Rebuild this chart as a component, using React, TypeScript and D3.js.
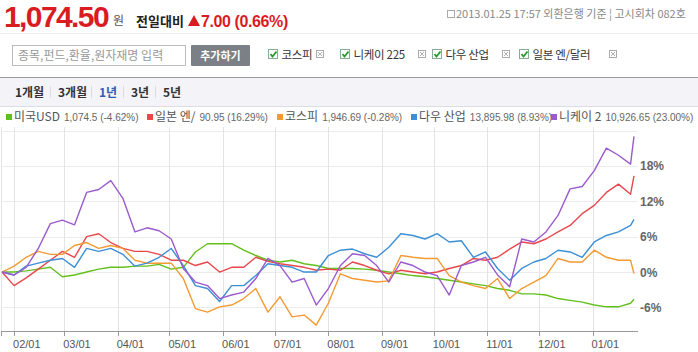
import React from 'react';
import * as d3 from 'd3';

// weekly closes, % change from 2012-01-25, last point = 2013-01-25
const START = new Date(2012, 0, 25);
const END = new Date(2013, 0, 25);
const dates: Date[] = [...d3.range(53).map(i => d3.timeDay.offset(START, 7 * i)), END];

const usd = [0, 0, 0.2, 0.5, 0.8, -0.8, -0.5, 0, 0.5, 0.8, 0.8, 1, 1, 1.3, 0.5,
  0.8, 3.4, 4.8, 4.8, 4.8, 3.7, 2.8, 2, 1.7, 2, 1.4, 1.1, 0.6, 0.6,
  0.6, 0.5, 0.3, 0, -0.3, -0.6, -0.8, -1.1, -1.4, -1.7, -2, -2.3, -2.8, -3.1,
  -3.7, -3.7, -3.9, -4.5, -4.8, -5.1, -5.6, -5.9, -5.9, -5.3, -4.62];
const jpy = [0, -2.3, -1, 0.5, 2, 3.5, 2.5, 6, 6.5, 5, 4, 3.5, 3.5, 3, 2,
  2, 1.1, 1.7, 0, 0.8, 0.8, 2.5, 1.8, 1.4, 1.1, 0.8, 0.3, 0.5, 0.3,
  1.7, 1.1, 0.3, -0.3, 0.3, 0, -0.3, 0, 0.6, 1.1, 2.3, 2, 2.5, 3.9,
  5.1, 4.8, 5.6, 6.8, 7.9, 9.9, 11.3, 13.5, 14.9, 13.2, 16.29];
const kospi = [0, 1, 2.5, 3.5, 3, 3, 4.5, 5, 4, 4.5, 4, 2, 1.5, 1.5, 1.5,
  -1.1, -6.2, -6.8, -5.9, -5.6, -4.5, -2.8, -6.8, -4.2, -7.6, -7.3, -9, -5.3, -0.3,
  -1.1, -1.4, -1.7, -1.5, 2.8, 2.5, 2.3, 2.3, -0.6, -1.7, -2.3, -2.8, -1.1, -4.5,
  -2.8, -1.7, -0.6, 2.3, 1.7, 1.7, 3.7, 2.5, 2, 2, -0.28];
const dow = [0, -0.5, 1, 1.5, 2, 2.3, 0.8, 4, 3.5, 4, 3, 1, 1.5, 2.5, 4,
  1.1, -2.3, -2.8, -5, -2.3, -2.3, -0.6, 1.4, 1.1, 0.8, 0, 0, 2.8, 3.7,
  3.9, 3.1, 2.5, 4.2, 6.5, 6.2, 5.6, 6.5, 5.1, 5.3, 2.5, 3.4, 0.6, -1.4,
  0.6, 1.7, 2.3, 3.7, 3.4, 2.5, 5.1, 6.2, 6.8, 7.9, 8.93];
const nikkei = [0, -0.5, 0.8, 4, 8.2, 8.8, 8, 13.5, 14, 15.5, 12.5, 6.8, 7.5, 7, 5.6,
  0.6, -1.7, -2.3, -4.5, -3.9, -3.4, -1.1, 2.3, 1.1, -1.7, -1.1, -5.6, -2.8, 1.1,
  3.1, 2.8, 1.1, -1.7, 1.7, 1.1, 0, -0.6, -3.9, 1.1, 1.7, 2.5, -0.5, -2.5,
  5.6, 5.1, 6.8, 9.6, 14.1, 14.5, 17.2, 21.0, 19.8, 18.3, 23.0];

const seriesNames = ['미국USD', '일본 엔/', '코스피', '다우 산업', '니케이 2'];
const lastValues = ['1,074.5', '90.95', '1,946.69', '13,895.98', '10,926.65'];
const lastPcts = ['(-4.62%)', '(16.29%)', '(-0.28%)', '(8.93%)', '(23.00%)'];
const seriesColors = ['#62bf1c', '#e8474b', '#f39a33', '#3d8fd6', '#9b5acd'];
const seriesValues = [usd, jpy, kospi, dow, nikkei];

const yTicks = [-6, 0, 6, 12, 18];
const gridTicks = [-6, 0, 6, 12, 18, 24];
const compareItems = ['코스피', '니케이 225', '다우 산업', '일본 엔/달러'];
const periods = ['1개월', '3개월', '1년', '3년', '5년'];

const W = 698;
const H = 352;
const KR = '"Noto Sans CJK KR", "Liberation Sans", sans-serif';

export default function App() {
  const x = d3.scaleTime().domain([START, END]).range([2, 634]);
  const y = d3.scaleLinear().domain([-10, 24]).range([331, 130.5]);
  const months = d3.timeMonth.range(new Date(2012, 1, 1), END);
  const line = d3.line<number>()
    .x((_, i) => x(dates[i]))
    .y(d => y(d));

  const legendX = [6, 147, 277, 411, 551];
  const checkX = [268, 340, 432, 519];
  const closeX = [316, 418, 502, 609];
  const periodX = [15, 58, 99, 131, 163];

  return (
    <div style={{ position: 'absolute', left: 0, top: 0 }}>
      <svg width={W} height={H} style={{ display: 'block', background: '#fff' }} fontFamily={KR}>
        {/* header */}
        <text x={4} y={27} fontFamily="Liberation Sans, Arial" fontWeight="bold" fontSize={30}
          letterSpacing={-1.6} fill="#d91c1f">1,074.50</text>
        <text x={113} y={25} fontSize={12} fill="#555">원</text>
        <text x={136} y={26} fontSize={13} fontWeight="bold" fill="#222">전일대비</text>
        <path d="M188,26 L200,26 L194,15 Z" fill="#d91c1f" />
        <text x={201} y={27} fontFamily="Liberation Sans, Arial" fontWeight="bold" fontSize={16}
          letterSpacing={-0.4} fill="#d91c1f">7.00 (0.66%)</text>
        <rect x={447.5} y={10.5} width={7} height={7} fill="none" stroke="#aaa" />
        <text x={456} y={18} fontSize={11} fill="#888">2013.01.25 17:57  외환은행 기준  ¦  고시회차 082호</text>
        <line x1={0} x2={W} y1={33.5} y2={33.5} stroke="#eee" />

        {/* search row */}
        <rect x={12.5} y={45.5} width={173} height={20} fill="#fff" stroke="#bbb" />
        <text x={18} y={60} fontSize={12} fill="#999">종목,펀드,환율,원자재명 입력</text>
        <rect x={191} y={45} width={59} height={21} rx={1} fill="#7b7f86" />
        <text x={220.5} y={59.5} fontSize={11} fontWeight="bold" fill="#fff" textAnchor="middle">추가하기</text>
        {compareItems.map((name, i) => {
          const cx = checkX[i];
          const bx = closeX[i];
          return (
            <g key={name}>
              <rect x={cx + 0.5} y={49.5} width={9} height={9} fill="#fff" stroke="#8a9" />
              <path d={`M${cx + 2.5},${54} l2,2.5 l4,-5`} fill="none" stroke="#2a9a2a" strokeWidth={1.8} />
              <text x={cx + 13.5} y={59} fontSize={11.5} letterSpacing={-0.3} fill="#333">{name}</text>
              <rect x={bx + 0.5} y={50.5} width={7} height={7} fill="#fff" stroke="#aaa" />
              <path d={`M${bx + 2},52 l4,4 M${bx + 6},52 l-4,4`} stroke="#999" strokeWidth={0.8} />
            </g>
          );
        })}

        {/* period bar */}
        <rect x={0} y={77} width={W} height={30} fill="#f4f4f8" />
        <line x1={0} x2={W} y1={77.5} y2={77.5} stroke="#9a9a9a" />
        <line x1={0} x2={W} y1={106.5} y2={106.5} stroke="#dcdce4" />
        {periods.map((p, i) => (
          <g key={p}>
            <text x={periodX[i]} y={97} fontSize={12} fontWeight="bold"
              fill={p === '1년' ? '#2f5eb0' : '#333'}>{p}</text>
            {i > 0 && <line x1={periodX[i] - 7.5} x2={periodX[i] - 7.5} y1={86} y2={98} stroke="#ddd" />}
          </g>
        ))}

        {/* legend */}
        {seriesNames.map((name, i) => (
          <g key={name}>
            <rect x={legendX[i]} y={114} width={6} height={6} fill={seriesColors[i]} />
            <text x={legendX[i] + 8} y={121} fontSize={12} fill="#555">
              {name}
              <tspan fontSize={10} fill="#666" fontFamily="Liberation Sans, Arial" dx={4}>
                {lastValues[i]} {lastPcts[i]}
              </tspan>
            </text>
          </g>
        ))}

        {/* grid */}
        {gridTicks.map(t => (
          <line key={t} x1={2} x2={638} y1={Math.round(y(t)) + 0.5} y2={Math.round(y(t)) + 0.5} stroke="#ececec" />
        ))}
        <line x1={1.5} x2={1.5} y1={127} y2={331} stroke="#e4e4e4" />
        {months.map(m => (
          <line key={+m} x1={Math.round(x(m)) + 0.5} x2={Math.round(x(m)) + 0.5} y1={127} y2={331} stroke="#e4e4e4" />
        ))}

        {/* series */}
        {seriesValues.map((vals, i) => (
          <path key={seriesNames[i]} d={line(vals) || ''} fill="none" stroke={seriesColors[i]}
            strokeWidth={1.4} strokeLinejoin="round" />
        ))}

        {/* x axis */}
        <line x1={1} x2={638} y1={331.5} y2={331.5} stroke="#999" />
        <line x1={1.5} x2={1.5} y1={331} y2={336} stroke="#999" />
        {months.map(m => (
          <g key={+m}>
            <line x1={Math.round(x(m)) + 0.5} x2={Math.round(x(m)) + 0.5} y1={331} y2={336} stroke="#999" />
            <text x={x(m) - 1} y={348} fontSize={11} fontFamily="Liberation Sans, Arial" fill="#555">
              {d3.timeFormat('%m/%d')(m)}
            </text>
          </g>
        ))}

        {/* right y labels */}
        {yTicks.map(t => (
          <text key={t} x={640} y={y(t) + 4.5} fontSize={12} fontWeight="bold"
            fontFamily="Liberation Sans, Arial" fill="#666">{`${t}%`}</text>
        ))}
      </svg>
    </div>
  );
}
